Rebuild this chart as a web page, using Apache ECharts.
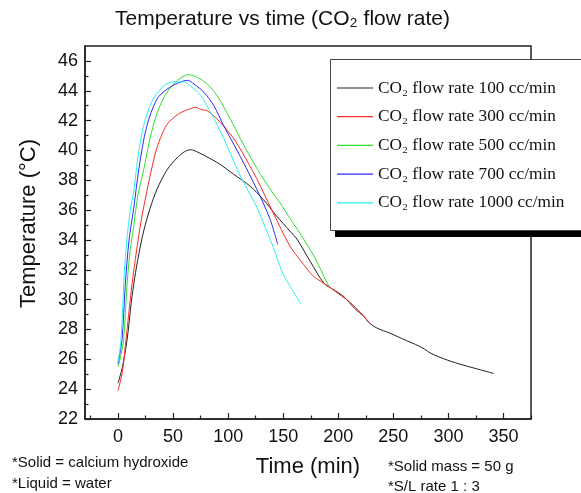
<!DOCTYPE html>
<html>
<head>
<meta charset="utf-8">
<script src="https://cdn.jsdelivr.net/npm/echarts@6/dist/echarts.min.js"></script>
<style>
  html, body { margin: 0; padding: 0; background: #fff; }
  #chart { width: 581px; height: 493px; }
</style>
</head>
<body>
<div id="chart"></div>
<script>
// [time (min), temperature (°C)]
const rate100 = [[0,24.4],[4,25.5],[8.2,27.3],[12,29.8],[15,31.4],[19,33.1],[23.3,34.6],[29,36.1],[35.4,37.4],[44.5,38.7],[53.6,39.5],[60,39.9],[66,40.05],[72,39.9],[80,39.6],[92,39.1],[105,38.4],[120,37.6],[132,36.7],[144,35.6],[156,34.6],[163,34.0],[175,32.5],[187,31.1],[195,30.7],[205,30.2],[215,29.4],[223,28.9],[228,28.45],[235,28.1],[247,27.75],[262,27.25],[270,27.0],[278,26.7],[284,26.4],[299,25.95],[314,25.6],[329,25.3],[341,25.05]];
const rate300 = [[0,23.9],[4,25.2],[7.2,27.3],[12,30.6],[15.7,32.7],[21,35.3],[26,37.2],[30,38.6],[35,40.1],[40,41.1],[45,41.8],[54,42.4],[62,42.7],[66,42.8],[70,42.9],[75,42.75],[81,42.65],[90,42.1],[102,41.1],[111,40.1],[126,38.1],[141,35.8],[156,33.6],[166,32.6],[177,31.6],[191,30.9],[200,30.4],[211,29.8],[223,28.9],[228,28.45]];
const rate500 = [[0,25.5],[3,26.4],[5.1,27.3],[8.2,31.0],[11,33.3],[14.2,34.9],[18,37.0],[23.3,38.7],[29,40.8],[35.4,42.5],[40,43.3],[44.5,43.9],[54,44.7],[64,45.08],[72,44.9],[81,44.45],[90,43.67],[102,42.1],[111,40.8],[126,38.8],[141,37.1],[147,36.5],[156.5,35.4],[163,34.7],[178,32.9],[190,31.1],[192,30.9]];
const rate700 = [[0,25.7],[3.6,27.3],[6.6,31.0],[10,34.0],[14.2,36.1],[19,38.8],[26,41.6],[35.4,43.45],[44.5,44.1],[54,44.5],[63,44.7],[69,44.45],[78,43.9],[87,43.0],[96,41.65],[111,39.6],[126,37.4],[138,35.4],[145,33.7]];
const rate1000 = [[0,25.8],[2.7,27.3],[5.7,31.8],[8,34.0],[11.2,36.05],[14.2,37.2],[18,39.5],[23,41.6],[28,42.8],[32,43.45],[41,44.3],[50,44.6],[60,44.6],[66,44.3],[75,43.7],[84,42.55],[96,40.8],[111,38.3],[126,36.2],[135,34.6],[141,33.5],[150,31.7],[157,30.8],[166,29.7]];

const seriesNames = ['CO₂ flow rate 100 cc/min', 'CO₂ flow rate 300 cc/min', 'CO₂ flow rate 500 cc/min', 'CO₂ flow rate 700 cc/min', 'CO₂ flow rate 1000 cc/min'];
const seriesData = [rate100, rate300, rate500, rate700, rate1000];
const seriesColors = ['#222222', '#ff2a2a', '#2ee02e', '#2a2aff', '#2af0f0'];

const xMajor = [0, 50, 100, 150, 200, 250, 300, 350];
const xMinor = [-25, 25, 75, 125, 175, 225, 275, 325, 375];
const yMajor = [22, 24, 26, 28, 30, 32, 34, 36, 38, 40, 42, 44, 46];
const yMinor = [23, 25, 27, 29, 31, 33, 35, 37, 39, 41, 43, 45];

const notes = ['*Solid = calcium hydroxide', '*Liquid = water', '*Solid mass = 50 g', '*S/L rate 1 : 3'];

const chart = echarts.init(document.getElementById('chart'), null, { renderer: 'canvas' });
const sans = 'Liberation Sans, Arial, sans-serif';
const axisCol = '#222';

const tickAxis = (pos, min, max, ticks, len) => ({
  type: 'value', position: pos, min, max,
  axisLine: { show: false, onZero: false },
  axisTick: { show: true, inside: true, length: len, customValues: ticks, lineStyle: { color: axisCol, width: 1.2 } },
  axisLabel: { show: false },
  splitLine: { show: false }
});

chart.setOption({
  backgroundColor: '#fff',
  animation: false,
  title: {
    text: 'Temperature vs time (CO₂ flow rate)',
    left: 115, top: 9, padding: 0,
    textStyle: { fontFamily: sans, fontSize: 21, fontWeight: 'normal', color: '#111' }
  },
  grid: { left: 85, right: 50, top: 46, bottom: 74, show: true, borderColor: axisCol, borderWidth: 1.5, backgroundColor: 'transparent' },
  xAxis: [
    {
      type: 'value', min: -30, max: 375,
      name: 'Time (min)', nameLocation: 'middle', nameGap: 37,
      nameTextStyle: { fontFamily: sans, fontSize: 22, color: '#111' },
      axisLine: { show: true, onZero: false, lineStyle: { color: axisCol, width: 1.5 } },
      axisTick: { show: true, inside: true, length: 6, customValues: xMajor, lineStyle: { color: axisCol, width: 1.2 } },
      axisLabel: { customValues: xMajor, fontFamily: sans, fontSize: 18, color: '#111', margin: 9 },
      splitLine: { show: false }
    },
    tickAxis('bottom', -30, 375, xMinor, 3.5)
  ],
  yAxis: [
    {
      type: 'value', min: 22, max: 47,
      name: 'Temperature (°C)', nameLocation: 'middle', nameGap: 45,
      nameTextStyle: { fontFamily: sans, fontSize: 22, color: '#111', padding: [0, 0, 0, 18] },
      axisLine: { show: true, onZero: false, lineStyle: { color: axisCol, width: 1.5 } },
      axisTick: { show: true, inside: true, length: 6, customValues: yMajor, lineStyle: { color: axisCol, width: 1.2 } },
      axisLabel: { customValues: yMajor, fontFamily: sans, fontSize: 18, color: '#111', margin: 7 },
      splitLine: { show: false }
    },
    tickAxis('left', 22, 47, yMinor, 3.5)
  ],
  legend: {
    orient: 'vertical', left: 337, top: 78, padding: 0,
    icon: 'rect', itemWidth: 36, itemHeight: 1.2, itemGap: 8.7,
    selectedMode: false, z: 120,
    textStyle: { fontFamily: 'Liberation Serif, Times New Roman, serif', fontSize: 17.3, lineHeight: 20, color: '#111' },
    data: seriesNames
  },
  graphic: [
    { type: 'rect', z: 100, shape: { x: 335, y: 231, width: 260, height: 6 }, style: { fill: '#000' } },
    { type: 'rect', z: 101, shape: { x: 330.5, y: 59.5, width: 270, height: 171 }, style: { fill: '#fff', stroke: '#444', lineWidth: 1 } },
    { type: 'text', z: 100, style: { x: 12, y: 463, text: notes[0], font: '15px ' + sans, fill: '#111', verticalAlign: 'middle' } },
    { type: 'text', z: 100, style: { x: 12, y: 484, text: notes[1], font: '15px ' + sans, fill: '#111', verticalAlign: 'middle' } },
    { type: 'text', z: 100, style: { x: 388, y: 467, text: notes[2], font: '15px ' + sans, fill: '#111', verticalAlign: 'middle' } },
    { type: 'text', z: 100, style: { x: 388, y: 487, text: notes[3], font: '15px ' + sans, fill: '#111', verticalAlign: 'middle' } }
  ],
  series: seriesNames.map((name, i) => ({
    name, type: 'line', data: seriesData[i],
    xAxisIndex: 0, yAxisIndex: 0,
    symbol: 'none', showSymbol: false, smooth: 0.3,
    lineStyle: { color: seriesColors[i], width: 1 },
    itemStyle: { color: seriesColors[i] }
  }))
});
</script>
</body>
</html>
